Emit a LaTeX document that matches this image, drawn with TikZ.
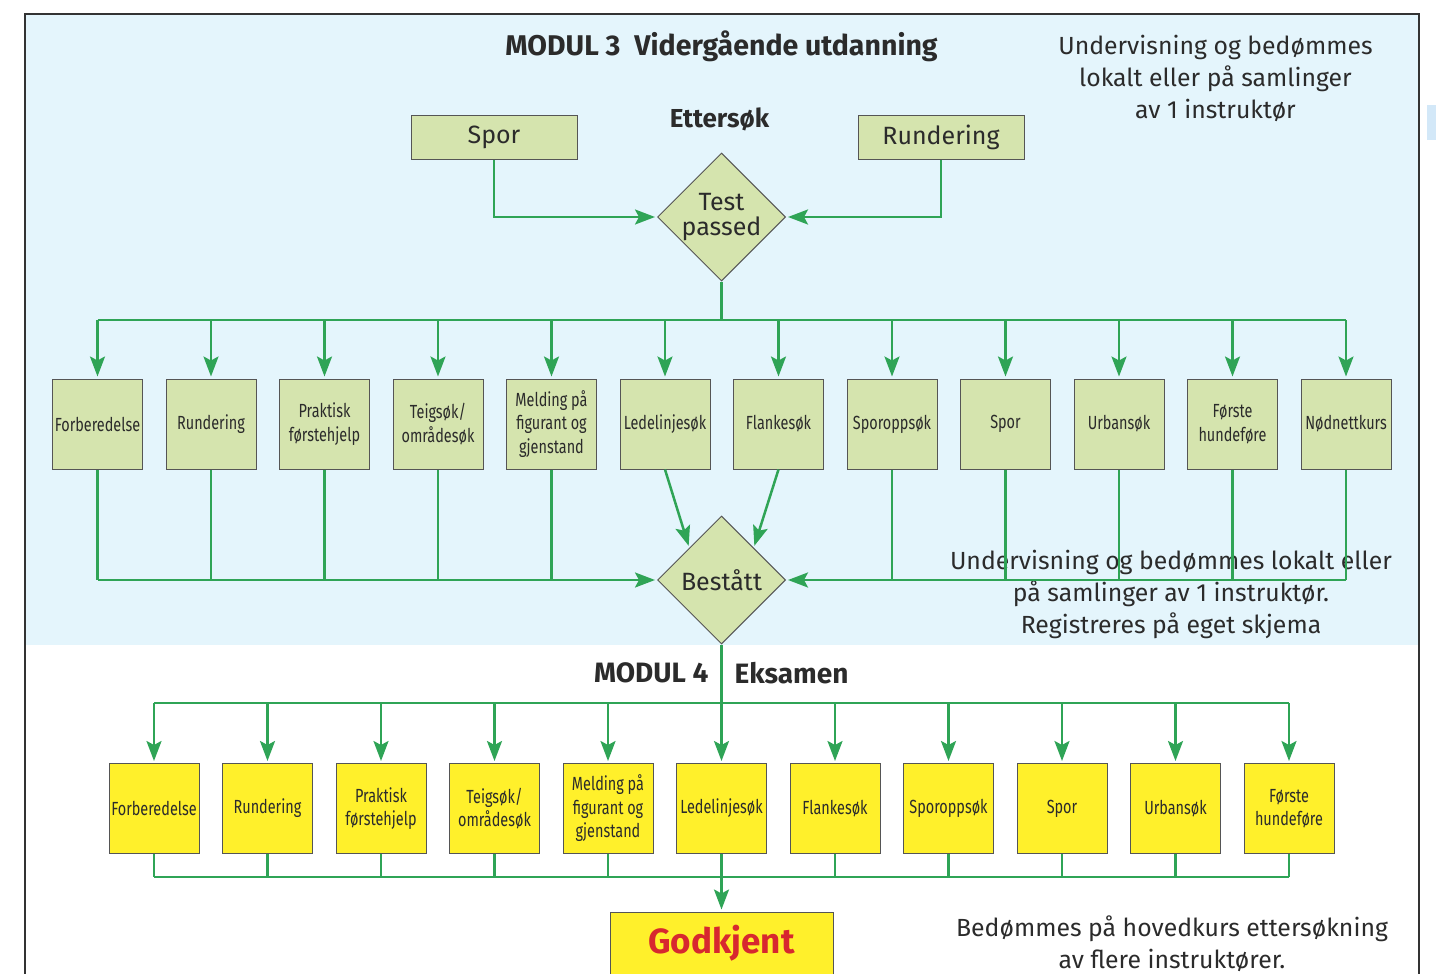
\documentclass[tikz,border=0pt]{standalone}
\usepackage{fontspec}
\setmainfont{Fira Sans}
\newfontfamily\cond[FakeStretch=0.76]{Fira Sans}
\newfontfamily\condb{Fira Sans Bold}
\usetikzlibrary{shapes.geometric,arrows.meta,calc}
\definecolor{bluebg}{HTML}{E4F5FC}
\definecolor{smallblue}{HTML}{D3E8F8}
\definecolor{gfill}{HTML}{D5E4AE}
\definecolor{yfill}{HTML}{FFF02B}
\definecolor{lgreen}{HTML}{2FA456}
\definecolor{godred}{HTML}{D7282F}
\definecolor{tdark}{HTML}{2B2B2B}
\definecolor{bordergray}{HTML}{555555}
\definecolor{framegray}{HTML}{333333}
\begin{document}
\begin{tikzpicture}[x=1pt,y=-1pt,
  conn/.style={draw=lgreen,line width=2.5pt},
  arr/.style={conn,-{Stealth[length=20pt,width=15pt,inset=4pt]},shorten >=2pt},
  gbox/.style={draw=bordergray,line width=1pt,fill=gfill,minimum width=90pt,minimum height=90pt,inner sep=1pt,align=center,text=tdark,font=\cond\fontsize{19}{23.5}\selectfont},
  ybox/.style={gbox,fill=yfill},
  topbox/.style={draw=bordergray,line width=1pt,fill=gfill,minimum width=166pt,minimum height=44pt,text=tdark,font=\fontsize{25}{25}\selectfont},
  dia/.style={diamond,aspect=1,draw=bordergray,line width=1pt,fill=gfill,minimum size=128pt,inner sep=0pt,align=center,text=tdark,font=\fontsize{25}{25}\selectfont},
  lbl/.style={text=tdark,align=center,font=\fontsize{24.8}{32}\selectfont},
  head/.style={text=tdark,font=\condb\fontsize{28}{30}\selectfont}
]
\path[use as bounding box] (0,0) rectangle (1436,974);
\fill[white] (0,0) rectangle (1436,974);
\fill[bluebg] (25,14) rectangle (1419,645);
\fill[smallblue] (1427,105) rectangle (1436,140);
\draw[framegray,line width=2.5pt] (25,980) -- (25,14) -- (1419,14) -- (1419,980);

% headings and notes
\node[head,font=\condb\fontsize{28.5}{30}\selectfont] (title) at (721.5,46) {MODUL 3\hspace{14pt}Vidergående utdanning};
\node[head,font=\condb\fontsize{26}{30}\selectfont] (etter) at (719.5,119) {Ettersøk};
\node[lbl] (note1) at (1215.5,78) {Undervisning og bedømmes\\lokalt eller på samlinger\\av 1 instruktør};
\node[lbl] (note2) at (1171,594) {Undervisning og bedømmes lokalt eller\\på samlinger av 1 instruktør.\\Registreres på eget skjema};
\node[lbl] (note3) at (1172,944) {Bedømmes på hovedkurs ettersøkning\\av flere instruktører.};
\node[head,anchor=east] (mod4) at (712,673) {MODUL 4};
\node[head,anchor=west] (eks) at (731,673) {Eksamen};

% module 3
\node[topbox] (spor) at (494,137) {Spor};
\node[topbox] (rund) at (941,137) {Rundering};
\node[dia] (test) at (721.5,217) {\raisebox{3pt}{Test}\\\raisebox{3pt}{passed}};
\node[dia] (best) at (721.5,580) {Bestått};

\foreach \i/\txt in {1/Forberedelse,2/Rundering,3/{Praktisk\\førstehjelp},4/{Teigsøk/\\områdesøk},5/{Melding på\\figurant og\\gjenstand},6/Ledelinjesøk,7/Flankesøk,8/Sporoppsøk,9/Spor,10/Urbansøk,11/{Første\\hundeføre},12/Nødnettkurs}
  \node[gbox] (t\i) at ({97.5+113.5*(\i-1)},424) {\txt};

\foreach \i/\txt in {1/Forberedelse,2/Rundering,3/{Praktisk\\førstehjelp},4/{Teigsøk/\\områdesøk},5/{Melding på\\figurant og\\gjenstand},6/Ledelinjesøk,7/Flankesøk,8/Sporoppsøk,9/Spor,10/Urbansøk,11/{Første\\hundeføre}}
  \node[ybox] (y\i) at ({154+113.5*(\i-1)},808.5) {\txt};

\node[draw=bordergray,line width=1pt,fill=yfill,minimum width=223pt,minimum height=62pt,text=godred,font=\condb\fontsize{35}{36}\selectfont] (god) at (721.5,943) {Godkjent};

\coordinate (bus1) at (721.5,320);
\coordinate (bus2) at (721.5,703);
\coordinate (bus3) at (721.5,877);

% connectors module 3
\draw[arr] (spor.south) |- (test.west);
\draw[arr] (rund.south) |- (test.east);
\draw[conn] (test.south) -- (bus1);
\draw[conn] (t1.north |- bus1) -- (t12.north |- bus1);
\foreach \i in {1,...,12} \draw[arr] (t\i.north |- bus1) -- (t\i.north);
\foreach \i in {1,...,5} \draw[conn] (t\i.south) -- (t\i.south |- best.west);
\draw[arr] (t1.south |- best.west) -- (best.west);
\foreach \i in {8,...,12} \draw[conn] (t\i.south) -- (t\i.south |- best.east);
\draw[arr] (t12.south |- best.east) -- (best.east);
\draw[arr] (t6.south) -- (best.north west);
\draw[arr] (t7.south) -- (best.north east);

% module 4
\draw[arr] (best.south) -- (y6.north);
\draw[conn] (y1.north |- bus2) -- (y11.north |- bus2);
\foreach \i in {1,...,5,7,8,9,10,11} \draw[arr] (y\i.north |- bus2) -- (y\i.north);
\foreach \i in {1,...,5,7,8,9,10,11} \draw[conn] (y\i.south) -- (y\i.south |- bus3);
\draw[conn] (y1.south |- bus3) -- (y11.south |- bus3);
\draw[arr] (y6.south) -- (god.north);
\end{tikzpicture}
\end{document}
